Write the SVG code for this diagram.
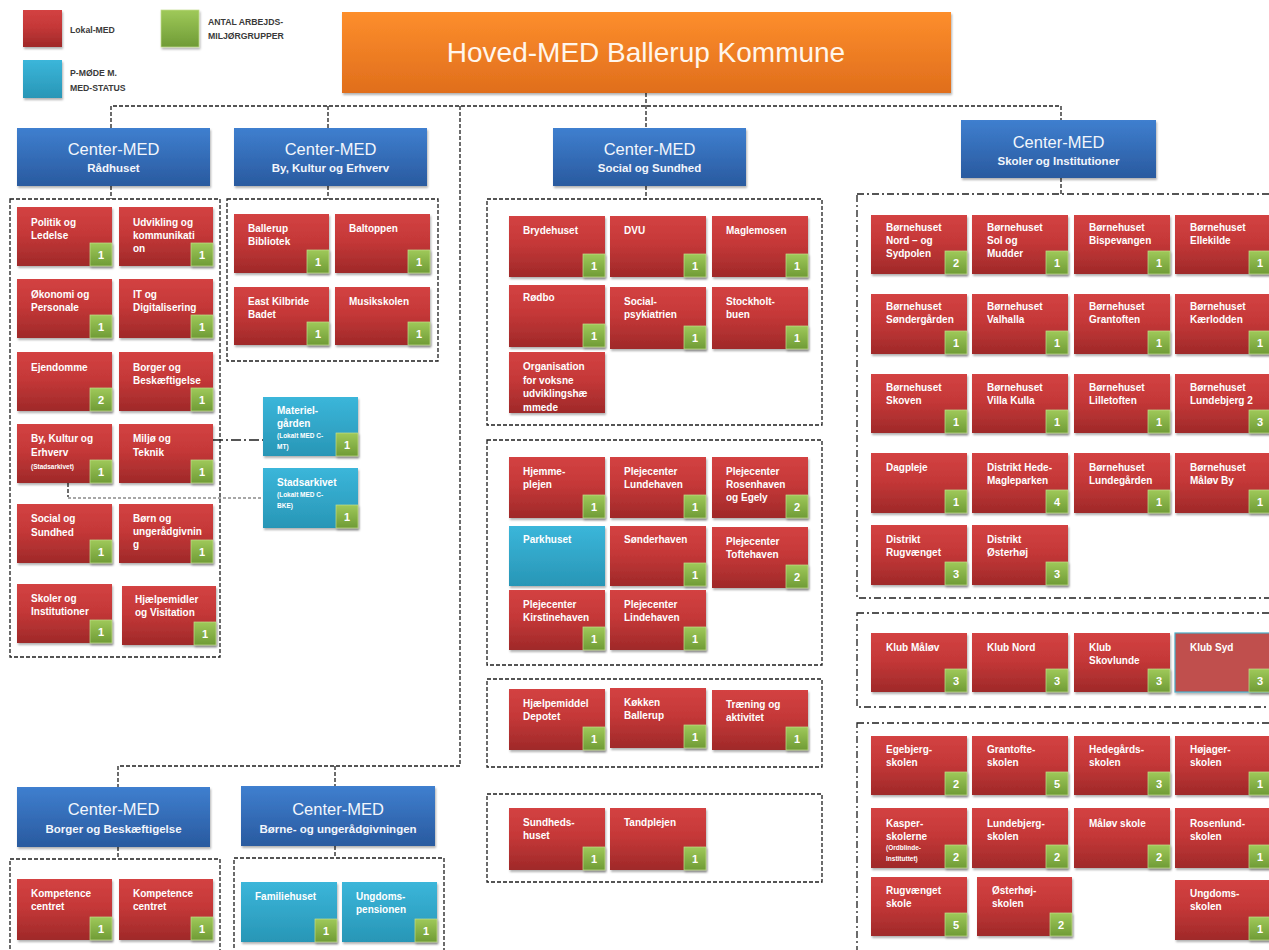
<svg xmlns="http://www.w3.org/2000/svg" width="1269" height="950" viewBox="0 0 1269 950">
<defs>
  <linearGradient id="gRed" x1="0" y1="0" x2="0" y2="1">
    <stop offset="0" stop-color="#d34242"/>
    <stop offset="0.45" stop-color="#c53838"/>
    <stop offset="1" stop-color="#9f2929"/>
  </linearGradient>
  <linearGradient id="gTeal" x1="0" y1="0" x2="0" y2="1">
    <stop offset="0" stop-color="#3bb6da"/>
    <stop offset="1" stop-color="#2896b6"/>
  </linearGradient>
  <linearGradient id="gBlue" x1="0" y1="0" x2="0" y2="1">
    <stop offset="0" stop-color="#3f7fcf"/>
    <stop offset="1" stop-color="#295a9f"/>
  </linearGradient>
  <linearGradient id="gGreen" x1="0" y1="0" x2="0" y2="1">
    <stop offset="0" stop-color="#9fc959"/>
    <stop offset="1" stop-color="#6f9b36"/>
  </linearGradient>
  <linearGradient id="gOrange" x1="0" y1="0" x2="0" y2="1">
    <stop offset="0" stop-color="#fd8e2c"/>
    <stop offset="1" stop-color="#e06e1c"/>
  </linearGradient>
  <filter id="sh" x="-10%" y="-10%" width="125%" height="130%">
    <feDropShadow dx="1" dy="2" stdDeviation="1.3" flood-color="#000" flood-opacity="0.3"/>
  </filter>
</defs>
<style>
  text { font-family: "Liberation Sans", Arial, sans-serif; }
  .nr { fill: url(#gRed); filter: url(#sh); }
  .nt { fill: url(#gTeal); filter: url(#sh); }
  .nc { fill: url(#gBlue); filter: url(#sh); }
  .bd { fill: url(#gGreen); stroke: #c2dc8e; stroke-width: 0.7; filter: url(#sh); }
  .lb { font-size: 10px; font-weight: bold; fill: #ffffff; }
  .sm { font-size: 6.5px; font-weight: bold; fill: #ffffff; }
  .num { font-size: 11px; font-weight: bold; fill: #ffffff; text-anchor: middle; }
  .ct { font-size: 16.5px; fill: #f2f6fc; text-anchor: middle; }
  .cs { font-size: 11.5px; font-weight: bold; fill: #f2f6fc; text-anchor: middle; }
  .lg { font-size: 8.7px; font-weight: bold; fill: #3a3a3a; }
  .grp { fill: none; stroke: #1e1e1e; stroke-width: 1.3; stroke-dasharray: 4 2; }
  .grp2 { fill: none; stroke: #1e1e1e; stroke-width: 1.3; stroke-dasharray: 7 3 2 3; }
  .ln { fill: none; stroke: #1e1e1e; stroke-width: 1.3; stroke-dasharray: 4 2; }
  .ln2 { fill: none; stroke: #1e1e1e; stroke-width: 1.5; stroke-dasharray: 10 3 2 3; }
  .ln3 { fill: none; stroke: #8a8a8a; stroke-width: 1.5; stroke-dasharray: 3 2; }
</style>
<rect width="1269" height="950" fill="#ffffff"/>

<!-- legend -->
<g id="legend">
  <rect class="nr" x="23" y="10" width="39" height="37"/>
  <text class="lg" x="70" y="33">Lokal-MED</text>
  <rect class="bd" x="161" y="10" width="38" height="37"/>
  <text class="lg" x="208" y="25">ANTAL ARBEJDS-</text>
  <text class="lg" x="208" y="39">MILJØRGRUPPER</text>
  <rect class="nt" x="23" y="60" width="39" height="38"/>
  <text class="lg" x="70" y="76">P-MØDE M.</text>
  <text class="lg" x="70" y="91">MED-STATUS</text>
</g>

<!-- connectors -->
<g id="connectors">
  <path class="ln" d="M646,93 V128"/>
  <path class="ln" d="M111,128 V106 H1061 V120"/>
  <path class="ln" d="M328,106 V128"/>
  <path class="ln" d="M460,106 V766 H118 V787"/>
  <path class="ln" d="M335,766 V786"/>
  <path class="ln" d="M111,186 V199"/>
  <path class="ln" d="M328,186 V199"/>
  <path class="ln" d="M646,186 V199"/>
  <path class="ln" d="M1061,178 V194"/>
  <path class="ln" d="M118,847 V859"/>
  <path class="ln" d="M335,846 V858"/>
  <path class="ln2" d="M213,440 H263"/>
  <path class="ln" d="M68,483 V497"/>
  <path class="ln3" d="M68,498 H263"/>
</g>

<!-- dashed unit frames -->
<g id="frames">
  <rect class="grp" x="10" y="199" width="210" height="458"/>
  <rect class="grp" x="227" y="199" width="211" height="162"/>
  <rect class="grp" x="487" y="199" width="335" height="226"/>
  <rect class="grp" x="487" y="440" width="335" height="225"/>
  <rect class="grp" x="487" y="679" width="335" height="88"/>
  <rect class="grp" x="487" y="794" width="335" height="88"/>
  <rect class="grp2" x="857" y="194" width="440" height="404"/>
  <rect class="grp2" x="857" y="613" width="440" height="94"/>
  <rect class="grp2" x="857" y="723" width="440" height="260"/>
  <rect class="grp" x="10" y="859" width="210" height="120"/>
  <rect class="grp" x="234" y="858" width="210" height="120"/>
</g>

<!-- top level -->
<g id="hoved-med">
  <rect x="342" y="12" width="609" height="81" fill="url(#gOrange)" filter="url(#sh)"/>
  <text x="646" y="62" font-size="28" fill="#fff6ec" text-anchor="middle">Hoved-MED Ballerup Kommune</text>
</g>

<!-- center level -->
<g id="c-raadhuset"><rect class="nc" x="17" y="128" width="193" height="58"/><text class="ct" x="113.5" y="155">Center-MED</text><text class="cs" x="113.5" y="172">Rådhuset</text></g>
<g id="c-bykultur"><rect class="nc" x="234" y="128" width="193" height="58"/><text class="ct" x="330.5" y="155">Center-MED</text><text class="cs" x="330.5" y="172">By, Kultur og Erhverv</text></g>
<g id="c-social"><rect class="nc" x="553" y="128" width="193" height="58"/><text class="ct" x="649.5" y="155">Center-MED</text><text class="cs" x="649.5" y="172">Social og Sundhed</text></g>
<g id="c-skoler"><rect class="nc" x="961" y="120" width="195" height="58"/><text class="ct" x="1058.5" y="148">Center-MED</text><text class="cs" x="1058.5" y="165">Skoler og  Institutioner</text></g>
<g id="c-borger"><rect class="nc" x="17" y="787" width="193" height="60"/><text class="ct" x="113.5" y="815">Center-MED</text><text class="cs" x="113.5" y="833">Borger og Beskæftigelse</text></g>
<g id="c-boerne"><rect class="nc" x="241" y="786" width="194" height="60"/><text class="ct" x="338" y="815">Center-MED</text><text class="cs" x="338" y="833">Børne- og ungerådgivningen</text></g>

<!-- Rådhuset units -->
<g id="n-politik"><rect class="nr" x="17" y="207" width="95" height="59"/><text class="lb"><tspan x="31" y="226">Politik og</tspan><tspan x="31" y="239">Ledelse</tspan></text><rect class="bd" x="90" y="243" width="22" height="23"/><text class="num" x="101" y="259">1</text></g>
<g id="n-udvikling"><rect class="nr" x="119" y="207" width="94" height="59"/><text class="lb"><tspan x="133" y="226">Udvikling og</tspan><tspan x="133" y="239">kommunikati</tspan><tspan x="133" y="252">on</tspan></text><rect class="bd" x="191" y="243" width="22" height="23"/><text class="num" x="202" y="259">1</text></g>
<g id="n-oekonomi"><rect class="nr" x="17" y="279" width="95" height="59"/><text class="lb"><tspan x="31" y="298">Økonomi og</tspan><tspan x="31" y="311">Personale</tspan></text><rect class="bd" x="90" y="315" width="22" height="23"/><text class="num" x="101" y="331">1</text></g>
<g id="n-it"><rect class="nr" x="119" y="279" width="94" height="59"/><text class="lb"><tspan x="133" y="298">IT og</tspan><tspan x="133" y="311">Digitalisering</tspan></text><rect class="bd" x="191" y="315" width="22" height="23"/><text class="num" x="202" y="331">1</text></g>
<g id="n-ejendomme"><rect class="nr" x="17" y="352" width="95" height="59"/><text class="lb"><tspan x="31" y="371">Ejendomme</tspan></text><rect class="bd" x="90" y="388" width="22" height="23"/><text class="num" x="101" y="404">2</text></g>
<g id="n-borgerbesk"><rect class="nr" x="119" y="352" width="94" height="59"/><text class="lb"><tspan x="133" y="371">Borger og</tspan><tspan x="133" y="384">Beskæftigelse</tspan></text><rect class="bd" x="191" y="388" width="22" height="23"/><text class="num" x="202" y="404">1</text></g>
<g id="n-bykultur"><rect class="nr" x="17" y="424" width="95" height="59"/><text class="lb"><tspan x="31" y="442">By, Kultur og</tspan><tspan x="31" y="456">Erhverv</tspan></text><text class="sm" x="31" y="469">(Stadsarkivet)</text><rect class="bd" x="90" y="460" width="22" height="23"/><text class="num" x="101" y="476">1</text></g>
<g id="n-miljoe"><rect class="nr" x="119" y="424" width="94" height="59"/><text class="lb"><tspan x="133" y="442">Miljø og</tspan><tspan x="133" y="456">Teknik</tspan></text><rect class="bd" x="191" y="460" width="22" height="23"/><text class="num" x="202" y="476">1</text></g>
<g id="n-socialsundhed"><rect class="nr" x="17" y="504" width="95" height="59"/><text class="lb"><tspan x="31" y="522">Social og</tspan><tspan x="31" y="536">Sundhed</tspan></text><rect class="bd" x="90" y="540" width="22" height="23"/><text class="num" x="101" y="556">1</text></g>
<g id="n-boern"><rect class="nr" x="119" y="504" width="94" height="59"/><text class="lb"><tspan x="133" y="522">Børn og</tspan><tspan x="133" y="535">ungerådgivnin</tspan><tspan x="133" y="548">g</tspan></text><rect class="bd" x="191" y="540" width="22" height="23"/><text class="num" x="202" y="556">1</text></g>
<g id="n-skolerinst"><rect class="nr" x="17" y="584" width="95" height="59"/><text class="lb"><tspan x="31" y="602">Skoler og</tspan><tspan x="31" y="615">Institutioner</tspan></text><rect class="bd" x="90" y="620" width="22" height="23"/><text class="num" x="101" y="636">1</text></g>
<g id="n-hjaelpemidler"><rect class="nr" x="122" y="586" width="94" height="59"/><text class="lb"><tspan x="135" y="603">Hjælpemidler</tspan><tspan x="135" y="616">og Visitation</tspan></text><rect class="bd" x="194" y="622" width="22" height="23"/><text class="num" x="205" y="638">1</text></g>

<!-- side units -->
<g id="n-materielgaarden"><rect class="nt" x="263" y="397" width="95" height="59"/><text class="lb"><tspan x="277" y="414">Materiel-</tspan><tspan x="277" y="427">gården</tspan></text><text class="sm"><tspan x="277" y="438">(Lokalt MED C-</tspan><tspan x="277" y="449">MT)</tspan></text><rect class="bd" x="336" y="433" width="22" height="23"/><text class="num" x="347" y="449">1</text></g>
<g id="n-stadsarkivet"><rect class="nt" x="263" y="468" width="95" height="60"/><text class="lb"><tspan x="277" y="486">Stadsarkivet</tspan></text><text class="sm"><tspan x="277" y="497">(Lokalt MED C-</tspan><tspan x="277" y="508">BKE)</tspan></text><rect class="bd" x="336" y="505" width="22" height="23"/><text class="num" x="347" y="521">1</text></g>

<!-- By, Kultur og Erhverv units -->
<g id="n-bibliotek"><rect class="nr" x="234" y="214" width="95" height="59"/><text class="lb"><tspan x="248" y="232">Ballerup</tspan><tspan x="248" y="245">Bibliotek</tspan></text><rect class="bd" x="307" y="250" width="22" height="23"/><text class="num" x="318" y="266">1</text></g>
<g id="n-baltoppen"><rect class="nr" x="335" y="214" width="95" height="59"/><text class="lb"><tspan x="349" y="232">Baltoppen</tspan></text><rect class="bd" x="408" y="250" width="22" height="23"/><text class="num" x="419" y="266">1</text></g>
<g id="n-kilbride"><rect class="nr" x="234" y="287" width="95" height="58"/><text class="lb"><tspan x="248" y="305">East Kilbride</tspan><tspan x="248" y="318">Badet</tspan></text><rect class="bd" x="307" y="322" width="22" height="23"/><text class="num" x="318" y="338">1</text></g>
<g id="n-musikskolen"><rect class="nr" x="335" y="287" width="95" height="58"/><text class="lb"><tspan x="349" y="305">Musikskolen</tspan></text><rect class="bd" x="408" y="322" width="22" height="23"/><text class="num" x="419" y="338">1</text></g>

<!-- Social og Sundhed units -->
<g id="n-brydehuset"><rect class="nr" x="509" y="216" width="96" height="61"/><text class="lb"><tspan x="523" y="234">Brydehuset</tspan></text><rect class="bd" x="583" y="254" width="22" height="23"/><text class="num" x="594" y="270">1</text></g>
<g id="n-dvu"><rect class="nr" x="610" y="216" width="96" height="61"/><text class="lb"><tspan x="624" y="234">DVU</tspan></text><rect class="bd" x="684" y="254" width="22" height="23"/><text class="num" x="695" y="270">1</text></g>
<g id="n-maglemosen"><rect class="nr" x="712" y="216" width="96" height="61"/><text class="lb"><tspan x="726" y="234">Maglemosen</tspan></text><rect class="bd" x="786" y="254" width="22" height="23"/><text class="num" x="797" y="270">1</text></g>
<g id="n-roedbo"><rect class="nr" x="509" y="285" width="96" height="62"/><text class="lb"><tspan x="523" y="301">Rødbo</tspan></text><rect class="bd" x="583" y="324" width="22" height="23"/><text class="num" x="594" y="340">1</text></g>
<g id="n-socialpsyk"><rect class="nr" x="610" y="287" width="96" height="62"/><text class="lb"><tspan x="624" y="305">Social-</tspan><tspan x="624" y="318">psykiatrien</tspan></text><rect class="bd" x="684" y="326" width="22" height="23"/><text class="num" x="695" y="342">1</text></g>
<g id="n-stockholt"><rect class="nr" x="712" y="287" width="96" height="62"/><text class="lb"><tspan x="726" y="305">Stockholt-</tspan><tspan x="726" y="318">buen</tspan></text><rect class="bd" x="786" y="326" width="22" height="23"/><text class="num" x="797" y="342">1</text></g>
<g id="n-organisation"><rect class="nr" x="509" y="352" width="96" height="61"/><text class="lb"><tspan x="523" y="370">Organisation</tspan><tspan x="523" y="384">for voksne</tspan><tspan x="523" y="397">udviklingshæ</tspan><tspan x="523" y="411">mmede</tspan></text></g>

<g id="n-hjemmeplejen"><rect class="nr" x="509" y="457" width="96" height="61"/><text class="lb"><tspan x="523" y="475">Hjemme-</tspan><tspan x="523" y="488">plejen</tspan></text><rect class="bd" x="583" y="495" width="22" height="23"/><text class="num" x="594" y="511">1</text></g>
<g id="n-lundehaven"><rect class="nr" x="610" y="457" width="96" height="61"/><text class="lb"><tspan x="624" y="475">Plejecenter</tspan><tspan x="624" y="488">Lundehaven</tspan></text><rect class="bd" x="684" y="495" width="22" height="23"/><text class="num" x="695" y="511">1</text></g>
<g id="n-rosenhaven"><rect class="nr" x="712" y="457" width="96" height="61"/><text class="lb"><tspan x="726" y="475">Plejecenter</tspan><tspan x="726" y="488">Rosenhaven</tspan><tspan x="726" y="501">og Egely</tspan></text><rect class="bd" x="786" y="495" width="22" height="23"/><text class="num" x="797" y="511">2</text></g>
<g id="n-parkhuset"><rect class="nt" x="509" y="526" width="96" height="60"/><text class="lb"><tspan x="523" y="543">Parkhuset</tspan></text></g>
<g id="n-soenderhaven"><rect class="nr" x="610" y="526" width="96" height="60"/><text class="lb"><tspan x="624" y="543">Sønderhaven</tspan></text><rect class="bd" x="684" y="563" width="22" height="23"/><text class="num" x="695" y="579">1</text></g>
<g id="n-toftehaven"><rect class="nr" x="712" y="527" width="96" height="61"/><text class="lb"><tspan x="726" y="545">Plejecenter</tspan><tspan x="726" y="558">Toftehaven</tspan></text><rect class="bd" x="786" y="565" width="22" height="23"/><text class="num" x="797" y="581">2</text></g>
<g id="n-kirstinehaven"><rect class="nr" x="509" y="590" width="96" height="60"/><text class="lb"><tspan x="523" y="608">Plejecenter</tspan><tspan x="523" y="621">Kirstinehaven</tspan></text><rect class="bd" x="583" y="627" width="22" height="23"/><text class="num" x="594" y="643">1</text></g>
<g id="n-lindehaven"><rect class="nr" x="610" y="590" width="96" height="60"/><text class="lb"><tspan x="624" y="608">Plejecenter</tspan><tspan x="624" y="621">Lindehaven</tspan></text><rect class="bd" x="684" y="627" width="22" height="23"/><text class="num" x="695" y="643">1</text></g>

<g id="n-hjaelpemiddel"><rect class="nr" x="509" y="689" width="96" height="61"/><text class="lb"><tspan x="523" y="707">Hjælpemiddel</tspan><tspan x="523" y="720">Depotet</tspan></text><rect class="bd" x="583" y="727" width="22" height="23"/><text class="num" x="594" y="743">1</text></g>
<g id="n-koekken"><rect class="nr" x="610" y="688" width="96" height="60"/><text class="lb"><tspan x="624" y="706">Køkken</tspan><tspan x="624" y="719">Ballerup</tspan></text><rect class="bd" x="684" y="725" width="22" height="23"/><text class="num" x="695" y="741">1</text></g>
<g id="n-traening"><rect class="nr" x="712" y="690" width="96" height="60"/><text class="lb"><tspan x="726" y="708">Træning og</tspan><tspan x="726" y="721">aktivitet</tspan></text><rect class="bd" x="786" y="727" width="22" height="23"/><text class="num" x="797" y="743">1</text></g>

<g id="n-sundhedshuset"><rect class="nr" x="509" y="808" width="96" height="62"/><text class="lb"><tspan x="523" y="826">Sundheds-</tspan><tspan x="523" y="839">huset</tspan></text><rect class="bd" x="583" y="847" width="22" height="23"/><text class="num" x="594" y="863">1</text></g>
<g id="n-tandplejen"><rect class="nr" x="610" y="808" width="96" height="62"/><text class="lb"><tspan x="624" y="826">Tandplejen</tspan></text><rect class="bd" x="684" y="847" width="22" height="23"/><text class="num" x="695" y="863">1</text></g>

<!-- Skoler og Institutioner: daycare -->
<g id="n-b-nord"><rect class="nr" x="871" y="215" width="96" height="59"/><text class="lb"><tspan x="886" y="231">Børnehuset</tspan><tspan x="886" y="244">Nord – og</tspan><tspan x="886" y="257">Sydpolen</tspan></text><rect class="bd" x="945" y="251" width="22" height="23"/><text class="num" x="956" y="267">2</text></g>
<g id="n-b-sol"><rect class="nr" x="972" y="215" width="96" height="59"/><text class="lb"><tspan x="987" y="231">Børnehuset</tspan><tspan x="987" y="244">Sol og</tspan><tspan x="987" y="257">Mudder</tspan></text><rect class="bd" x="1046" y="251" width="22" height="23"/><text class="num" x="1057" y="267">1</text></g>
<g id="n-b-bisp"><rect class="nr" x="1074" y="215" width="96" height="59"/><text class="lb"><tspan x="1089" y="231">Børnehuset</tspan><tspan x="1089" y="244">Bispevangen</tspan></text><rect class="bd" x="1148" y="251" width="22" height="23"/><text class="num" x="1159" y="267">1</text></g>
<g id="n-b-elle"><rect class="nr" x="1175" y="215" width="96" height="59"/><text class="lb"><tspan x="1190" y="231">Børnehuset</tspan><tspan x="1190" y="244">Ellekilde</tspan></text><rect class="bd" x="1249" y="251" width="22" height="23"/><text class="num" x="1260" y="267">1</text></g>

<g id="n-b-soender"><rect class="nr" x="871" y="294" width="96" height="60"/><text class="lb"><tspan x="886" y="310">Børnehuset</tspan><tspan x="886" y="323">Søndergården</tspan></text><rect class="bd" x="945" y="331" width="22" height="23"/><text class="num" x="956" y="347">1</text></g>
<g id="n-b-valhalla"><rect class="nr" x="972" y="294" width="96" height="60"/><text class="lb"><tspan x="987" y="310">Børnehuset</tspan><tspan x="987" y="323">Valhalla</tspan></text><rect class="bd" x="1046" y="331" width="22" height="23"/><text class="num" x="1057" y="347">1</text></g>
<g id="n-b-grantoften"><rect class="nr" x="1074" y="294" width="96" height="60"/><text class="lb"><tspan x="1089" y="310">Børnehuset</tspan><tspan x="1089" y="323">Grantoften</tspan></text><rect class="bd" x="1148" y="331" width="22" height="23"/><text class="num" x="1159" y="347">1</text></g>
<g id="n-b-kaerlodden"><rect class="nr" x="1175" y="294" width="96" height="60"/><text class="lb"><tspan x="1190" y="310">Børnehuset</tspan><tspan x="1190" y="323">Kærlodden</tspan></text><rect class="bd" x="1249" y="331" width="22" height="23"/><text class="num" x="1260" y="347">1</text></g>

<g id="n-b-skoven"><rect class="nr" x="871" y="374" width="96" height="59"/><text class="lb"><tspan x="886" y="391">Børnehuset</tspan><tspan x="886" y="404">Skoven</tspan></text><rect class="bd" x="945" y="410" width="22" height="23"/><text class="num" x="956" y="426">1</text></g>
<g id="n-b-villakulla"><rect class="nr" x="972" y="374" width="96" height="59"/><text class="lb"><tspan x="987" y="391">Børnehuset</tspan><tspan x="987" y="404">Villa Kulla</tspan></text><rect class="bd" x="1046" y="410" width="22" height="23"/><text class="num" x="1057" y="426">1</text></g>
<g id="n-b-lilletoften"><rect class="nr" x="1074" y="374" width="96" height="59"/><text class="lb"><tspan x="1089" y="391">Børnehuset</tspan><tspan x="1089" y="404">Lilletoften</tspan></text><rect class="bd" x="1148" y="410" width="22" height="23"/><text class="num" x="1159" y="426">1</text></g>
<g id="n-b-lundebjerg"><rect class="nr" x="1175" y="374" width="96" height="59"/><text class="lb"><tspan x="1190" y="391">Børnehuset</tspan><tspan x="1190" y="404">Lundebjerg 2</tspan></text><rect class="bd" x="1249" y="410" width="22" height="23"/><text class="num" x="1260" y="426">3</text></g>

<g id="n-dagpleje"><rect class="nr" x="871" y="453" width="96" height="60"/><text class="lb"><tspan x="886" y="471">Dagpleje</tspan></text><rect class="bd" x="945" y="490" width="22" height="23"/><text class="num" x="956" y="506">1</text></g>
<g id="n-d-hede"><rect class="nr" x="972" y="453" width="96" height="60"/><text class="lb"><tspan x="987" y="471">Distrikt Hede-</tspan><tspan x="987" y="484">Magleparken</tspan></text><rect class="bd" x="1046" y="490" width="22" height="23"/><text class="num" x="1057" y="506">4</text></g>
<g id="n-b-lundegaarden"><rect class="nr" x="1074" y="453" width="96" height="60"/><text class="lb"><tspan x="1089" y="471">Børnehuset</tspan><tspan x="1089" y="484">Lundegården</tspan></text><rect class="bd" x="1148" y="490" width="22" height="23"/><text class="num" x="1159" y="506">1</text></g>
<g id="n-b-maaloevby"><rect class="nr" x="1175" y="453" width="96" height="60"/><text class="lb"><tspan x="1190" y="471">Børnehuset</tspan><tspan x="1190" y="484">Måløv By</tspan></text><rect class="bd" x="1249" y="490" width="22" height="23"/><text class="num" x="1260" y="506">1</text></g>

<g id="n-d-rugvaenget"><rect class="nr" x="871" y="525" width="96" height="60"/><text class="lb"><tspan x="886" y="543">Distrikt</tspan><tspan x="886" y="556">Rugvænget</tspan></text><rect class="bd" x="945" y="562" width="22" height="23"/><text class="num" x="956" y="578">3</text></g>
<g id="n-d-oesterhoej"><rect class="nr" x="972" y="525" width="96" height="60"/><text class="lb"><tspan x="987" y="543">Distrikt</tspan><tspan x="987" y="556">Østerhøj</tspan></text><rect class="bd" x="1046" y="562" width="22" height="23"/><text class="num" x="1057" y="578">3</text></g>

<!-- Skoler og Institutioner: clubs -->
<g id="n-klub-maaloev"><rect class="nr" x="871" y="633" width="96" height="59"/><text class="lb"><tspan x="886" y="651">Klub Måløv</tspan></text><rect class="bd" x="945" y="669" width="22" height="23"/><text class="num" x="956" y="685">3</text></g>
<g id="n-klub-nord"><rect class="nr" x="972" y="633" width="96" height="59"/><text class="lb"><tspan x="987" y="651">Klub Nord</tspan></text><rect class="bd" x="1046" y="669" width="22" height="23"/><text class="num" x="1057" y="685">3</text></g>
<g id="n-klub-skovlunde"><rect class="nr" x="1074" y="633" width="96" height="59"/><text class="lb"><tspan x="1089" y="651">Klub</tspan><tspan x="1089" y="664">Skovlunde</tspan></text><rect class="bd" x="1148" y="669" width="22" height="23"/><text class="num" x="1159" y="685">3</text></g>
<g id="n-klub-syd"><rect x="1175" y="633" width="96" height="59" fill="#c0504d" stroke="#4bacc6" stroke-width="1.2" filter="url(#sh)"/><text class="lb"><tspan x="1190" y="651">Klub Syd</tspan></text><rect class="bd" x="1249" y="669" width="22" height="23"/><text class="num" x="1260" y="685">3</text></g>

<!-- Skoler og Institutioner: schools -->
<g id="n-egebjerg"><rect class="nr" x="871" y="736" width="96" height="59"/><text class="lb"><tspan x="886" y="753">Egebjerg-</tspan><tspan x="886" y="766">skolen</tspan></text><rect class="bd" x="945" y="772" width="22" height="23"/><text class="num" x="956" y="788">2</text></g>
<g id="n-grantofte"><rect class="nr" x="972" y="736" width="96" height="59"/><text class="lb"><tspan x="987" y="753">Grantofte-</tspan><tspan x="987" y="766">skolen</tspan></text><rect class="bd" x="1046" y="772" width="22" height="23"/><text class="num" x="1057" y="788">5</text></g>
<g id="n-hedegaards"><rect class="nr" x="1074" y="736" width="96" height="59"/><text class="lb"><tspan x="1089" y="753">Hedegårds-</tspan><tspan x="1089" y="766">skolen</tspan></text><rect class="bd" x="1148" y="772" width="22" height="23"/><text class="num" x="1159" y="788">3</text></g>
<g id="n-hoejager"><rect class="nr" x="1175" y="736" width="96" height="59"/><text class="lb"><tspan x="1190" y="753">Højager-</tspan><tspan x="1190" y="766">skolen</tspan></text><rect class="bd" x="1249" y="772" width="22" height="23"/><text class="num" x="1260" y="788">1</text></g>

<g id="n-kasper"><rect class="nr" x="871" y="808" width="96" height="60"/><text class="lb"><tspan x="886" y="827">Kasper-</tspan><tspan x="886" y="840">skolerne</tspan></text><text class="sm"><tspan x="886" y="850">(Ordblinde-</tspan><tspan x="886" y="861">Instituttet)</tspan></text><rect class="bd" x="945" y="845" width="22" height="23"/><text class="num" x="956" y="861">2</text></g>
<g id="n-lundebjerg"><rect class="nr" x="972" y="808" width="96" height="60"/><text class="lb"><tspan x="987" y="827">Lundebjerg-</tspan><tspan x="987" y="840">skolen</tspan></text><rect class="bd" x="1046" y="845" width="22" height="23"/><text class="num" x="1057" y="861">2</text></g>
<g id="n-maaloev-skole"><rect class="nr" x="1074" y="808" width="96" height="60"/><text class="lb"><tspan x="1089" y="827">Måløv skole</tspan></text><rect class="bd" x="1148" y="845" width="22" height="23"/><text class="num" x="1159" y="861">2</text></g>
<g id="n-rosenlund"><rect class="nr" x="1175" y="808" width="96" height="60"/><text class="lb"><tspan x="1190" y="827">Rosenlund-</tspan><tspan x="1190" y="840">skolen</tspan></text><rect class="bd" x="1249" y="845" width="22" height="23"/><text class="num" x="1260" y="861">1</text></g>

<g id="n-rugvaenget-skole"><rect class="nr" x="871" y="877" width="96" height="59"/><text class="lb"><tspan x="886" y="894">Rugvænget</tspan><tspan x="886" y="907">skole</tspan></text><rect class="bd" x="945" y="913" width="22" height="23"/><text class="num" x="956" y="929">5</text></g>
<g id="n-oesterhoej-skole"><rect class="nr" x="977" y="877" width="95" height="59"/><text class="lb"><tspan x="992" y="894">Østerhøj-</tspan><tspan x="992" y="907">skolen</tspan></text><rect class="bd" x="1050" y="913" width="22" height="23"/><text class="num" x="1061" y="929">2</text></g>
<g id="n-ungdomsskolen"><rect class="nr" x="1175" y="880" width="96" height="60"/><text class="lb"><tspan x="1190" y="897">Ungdoms-</tspan><tspan x="1190" y="910">skolen</tspan></text><rect class="bd" x="1249" y="917" width="22" height="23"/><text class="num" x="1260" y="933">1</text></g>

<!-- Borger og Beskæftigelse units -->
<g id="n-kompetence1"><rect class="nr" x="17" y="879" width="95" height="61"/><text class="lb"><tspan x="31" y="897">Kompetence</tspan><tspan x="31" y="910">centret</tspan></text><rect class="bd" x="90" y="917" width="22" height="23"/><text class="num" x="101" y="933">1</text></g>
<g id="n-kompetence2"><rect class="nr" x="119" y="879" width="94" height="61"/><text class="lb"><tspan x="133" y="897">Kompetence</tspan><tspan x="133" y="910">centret</tspan></text><rect class="bd" x="191" y="917" width="22" height="23"/><text class="num" x="202" y="933">1</text></g>

<!-- Børne- og ungerådgivningen units -->
<g id="n-familiehuset"><rect class="nt" x="241" y="882" width="96" height="60"/><text class="lb"><tspan x="255" y="900">Familiehuset</tspan></text><rect class="bd" x="315" y="919" width="22" height="23"/><text class="num" x="326" y="935">1</text></g>
<g id="n-ungdomspensionen"><rect class="nt" x="342" y="882" width="95" height="60"/><text class="lb"><tspan x="356" y="900">Ungdoms-</tspan><tspan x="356" y="913">pensionen</tspan></text><rect class="bd" x="415" y="919" width="22" height="23"/><text class="num" x="426" y="935">1</text></g>
</svg>
